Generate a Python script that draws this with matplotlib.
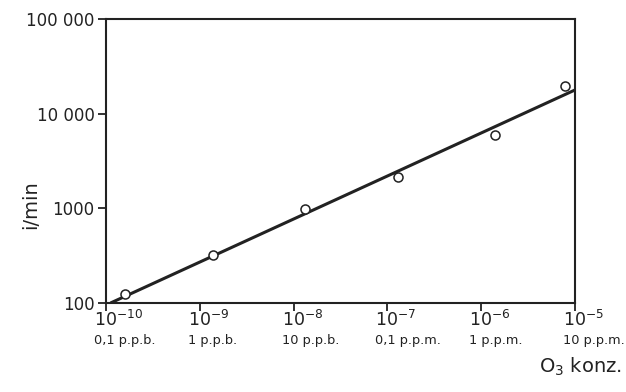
import numpy as np
import matplotlib.pyplot as plt
import matplotlib.transforms as mtransforms

# measured points (O3 concentration, counts per minute)
conc = [10**-9.8, 10**-8.86, 10**-7.88, 10**-6.89, 10**-5.86, 10**-5.11]
rate = [125, 320, 985, 2140, 5950, 19500]

# fitted line end points
fit_conc = [10**-9.95, 1e-5]
fit_rate = [100, 17800]

xticks = [1e-10, 1e-9, 1e-8, 1e-7, 1e-6, 1e-5]
xexp = ['-10', '-9', '-8', '-7', '-6', '-5']
xunits = ['0,1 p.p.b.', '1 p.p.b.', '10 p.p.b.', '0,1 p.p.m.', '1 p.p.m.', '10 p.p.m.']
yticks = [100, 1000, 10000, 100000]
ylabels = ['100', '1000', '10 000', '100 000']

ink = '#222222'

fig = plt.figure(figsize=(6.26, 3.92), dpi=100)
ax = fig.add_axes([0.169, 0.227, 0.75, 0.725])

ax.plot(fit_conc, fit_rate, color=ink, lw=2.2, solid_capstyle='butt')
ax.plot(conc, rate, 'o', mfc='white', mec=ink, mew=1.1, ms=6.5)

ax.set_xscale('log')
ax.set_yscale('log')
ax.set_xlim(1e-10, 1e-5)
ax.set_ylim(100, 100000)

ax.set_xticks(xticks)
ax.set_xticklabels([''] * len(xticks))
ax.set_yticks(yticks)
ax.set_yticklabels(ylabels)
ax.minorticks_off()

ax.tick_params(axis='both', colors=ink, labelcolor=ink, width=1.3, length=6,
               labelsize=12, direction='out')
ax.tick_params(axis='y', pad=2)
for s in ax.spines.values():
    s.set_color(ink)
    s.set_linewidth(1.5)

# two-line x tick labels: power of ten and concentration in words
base = ax.get_xaxis_transform()
pow_tr = mtransforms.offset_copy(base, fig=fig, x=-12, y=-7, units='dots')
unit_tr = mtransforms.offset_copy(base, fig=fig, x=-12, y=-41, units='dots')
for xt, e, u in zip(xticks, xexp, xunits):
    ax.text(xt, 0, f'$10^{{{e}}}$', transform=pow_tr, ha='left', va='top',
            fontsize=12.5, color=ink, clip_on=False)
    ax.text(xt, 0, u, transform=unit_tr, ha='left', va='baseline',
            fontsize=9.3, color=ink, clip_on=False)

ax.set_ylabel('i/min', fontsize=14, color=ink)
ax.yaxis.set_label_coords(-0.14, 0.345)
fig.text(0.993, 0.035, 'O$_3$ konz.', ha='right', va='bottom', fontsize=14, color=ink)

fig.savefig('out.png', dpi=100)
